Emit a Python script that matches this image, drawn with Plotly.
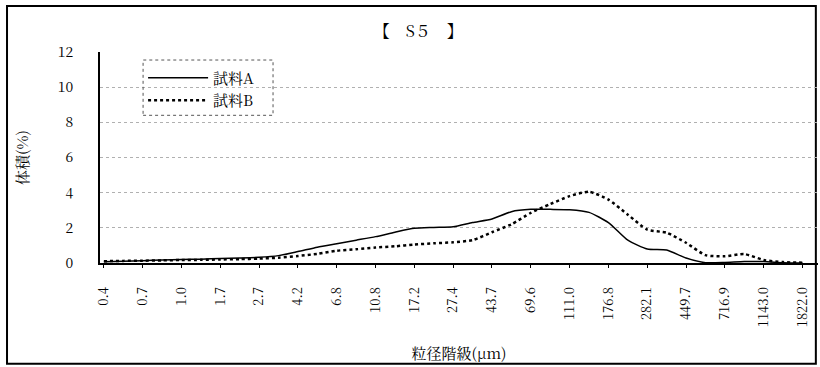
import plotly.graph_objects as go

# 粒径階級 (μm) — every other class is labelled on the axis
size_classes = ["0.4", "0.5", "0.7", "0.8", "1.0", "1.3", "1.7", "2.1", "2.7", "3.4",
                "4.2", "5.4", "6.8", "8.6", "10.8", "13.6", "17.2", "21.7", "27.4", "34.6",
                "43.7", "55.2", "69.6", "87.9", "111.0", "140.1", "176.8", "223.3", "282.1", "356.1",
                "449.7", "567.8", "716.9", "905.0", "1143.0", "1443.0", "1822.0"]
tick_labels = size_classes[::2]

sample_a = [0.07, 0.10, 0.13, 0.17, 0.20, 0.22, 0.25, 0.28, 0.32, 0.42,
            0.65, 0.90, 1.10, 1.30, 1.50, 1.75, 1.97, 2.02, 2.06, 2.30,
            2.50, 2.92, 3.05, 3.05, 3.03, 2.88, 2.30, 1.30, 0.80, 0.74,
            0.28, 0.02, 0.03, 0.08, 0.08, 0.02, 0.00]
sample_b = [0.10, 0.12, 0.13, 0.15, 0.17, 0.18, 0.20, 0.22, 0.25, 0.30,
            0.40, 0.52, 0.70, 0.78, 0.88, 0.95, 1.05, 1.12, 1.18, 1.30,
            1.75, 2.20, 2.85, 3.35, 3.80, 4.05, 3.60, 2.75, 1.90, 1.72,
            1.15, 0.45, 0.38, 0.51, 0.17, 0.05, 0.02]

SERIF = "Noto Serif CJK JP, Liberation Serif, DejaVu Serif, serif"

fig = go.Figure()
fig.add_trace(go.Scatter(x=size_classes, y=sample_a, name="試料A", mode="lines",
                         line=dict(color="black", width=1.5, shape="spline", smoothing=0.6)))
fig.add_trace(go.Scatter(x=size_classes, y=sample_b, name="試料B", mode="lines",
                         line=dict(color="black", width=2.5, dash="dot", shape="spline", smoothing=0.6)))

fig.update_layout(
    width=820, height=367,
    margin=dict(l=100, r=2, t=52, b=104, autoexpand=False),
    paper_bgcolor="white", plot_bgcolor="white",
    font=dict(family=SERIF, color="black", size=13),
    title=dict(text="【　S５　】", x=0.51, xanchor="center", y=0.915, yanchor="middle",
               font=dict(size=16, family=SERIF)),
    showlegend=True,
    legend=dict(x=0.06, y=0.955, xanchor="left", yanchor="top",
                bgcolor="rgba(0,0,0,0)", font=dict(size=15, family=SERIF),
                itemwidth=60, tracegroupgap=0),
)

fig.update_xaxes(
    type="category", range=[-0.2, 36.8], automargin=False,
    tickmode="array", tickvals=tick_labels, ticktext=tick_labels,
    tickangle=-90, ticklabelstandoff=14, tickfont=dict(size=13, family=SERIF),
    showline=True, linecolor="black", linewidth=2,
    ticks="outside", ticklen=3, tickcolor="black",
    showgrid=False, zeroline=False,
    title=dict(text="粒径階級(μm)", font=dict(size=15, family=SERIF), standoff=22),
)
fig.update_yaxes(
    range=[0, 12], dtick=2, automargin=False,
    showline=True, linecolor="black", linewidth=2,
    ticklabelstandoff=22, tickfont=dict(size=14, family=SERIF),
    showgrid=True, gridcolor="#b0b0b0", griddash="dot", gridwidth=1,
    zeroline=False,
    title=dict(text="体積(%)", font=dict(size=15, family=SERIF), standoff=26),
)

# outer frame and dotted legend box
fig.add_shape(type="rect", xref="paper", yref="paper",
              x0=-0.1295, x1=0.997, y0=-0.478, y1=1.218,
              line=dict(color="black", width=2), layer="below")
fig.add_shape(type="rect", xref="paper", yref="paper",
              x0=0.06, x1=0.241, y0=0.70, y1=0.962,
              line=dict(color="#555555", width=1, dash="dot"))

# page body has a default 8px margin; drop it so the figure sits at the window corner
fig.write_html("out.html", config={"displayModeBar": False},
               post_script="document.body.style.margin='0';")
